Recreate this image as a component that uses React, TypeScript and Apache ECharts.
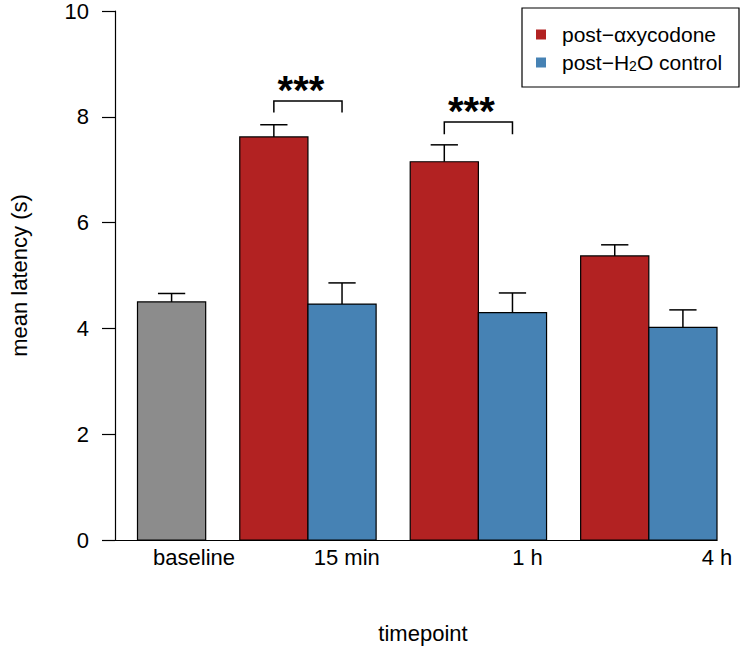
import React, { useEffect, useRef } from "react";
import * as echarts from "echarts";

// ---- data ----
const groupLabels = ["baseline", "15 min", "1 h", "4 h"];
const baselineMean = [4.5];
const baselineSem = [0.16];
const oxyName = "post\u2212\u03B1xycodone";
const h2oName = "post\u2212H2O control";
const oxyMean = [7.62, 7.15, 5.37]; // 15 min, 1 h, 4 h
const oxySem = [0.23, 0.32, 0.21];
const h2oMean = [4.46, 4.3, 4.02];
const h2oSem = [0.4, 0.37, 0.33];
// significance brackets: group index (0 = 15 min), bracket top, bracket foot
const sigGroup = [0, 1];
const sigTop = [8.3, 7.9];
const sigFoot = [8.08, 7.67];
const sigText = ["***", "***"];
const yTicks = [0, 2, 4, 6, 8, 10];

// ---- layout (bar units) ----
const BAR_W = 1;
const X_MAX = 8.83;
const baseLeft = 0.33;
const groupLeft = (g: number) => 1.83 + g * 2.5;
const labelPos = [1.16, 3.4, 6.05, 8.83];

const FONT = "'Liberation Sans', Arial, Helvetica, sans-serif";
const RED = "#b22222";
const BLUE = "#4682b4";
const GRAY = "#8c8c8c";

function barRender(params: any, api: any) {
  const left = api.value(0);
  const val = api.value(1);
  const sem = api.value(2);
  const color = api.visual("color");
  const p0 = api.coord([left, 0]);
  const p1 = api.coord([left + BAR_W, val]);
  const cx = left + BAR_W / 2;
  const top = api.coord([cx, val]);
  const eTop = api.coord([cx, val + sem]);
  const capL = api.coord([cx - 0.2, val + sem]);
  const capR = api.coord([cx + 0.2, val + sem]);
  return {
    type: "group",
    children: [
      {
        type: "rect",
        shape: { x: p0[0], y: p1[1], width: p1[0] - p0[0], height: p0[1] - p1[1] },
        style: { fill: color, stroke: "#000", lineWidth: 1.2 },
      },
      {
        type: "line",
        shape: { x1: top[0], y1: top[1], x2: eTop[0], y2: eTop[1] },
        style: { stroke: "#000", lineWidth: 1.5 },
      },
      {
        type: "line",
        shape: { x1: capL[0], y1: capL[1], x2: capR[0], y2: capR[1] },
        style: { stroke: "#000", lineWidth: 1.5 },
      },
    ],
  };
}

export default function App() {
  const ref = useRef<HTMLDivElement>(null);
  useEffect(() => {
    if (!ref.current) return;
    const chart = echarts.init(ref.current, null, { renderer: "svg" });

    const baseData = baselineMean.map((m, i) => [baseLeft, m, baselineSem[i]]);
    const oxyData = oxyMean.map((m, i) => [groupLeft(i), m, oxySem[i]]);
    const h2oData = h2oMean.map((m, i) => [groupLeft(i) + BAR_W, m, h2oSem[i]]);
    const sigData = sigGroup.map((g, i) => [
      groupLeft(g) + BAR_W / 2,
      groupLeft(g) + BAR_W * 1.5,
      sigTop[i],
      sigFoot[i],
      i,
    ]);
    const labelData = groupLabels.map((l, i) => [labelPos[i], 0, i]);

    chart.setOption({
      animation: false,
      textStyle: { fontFamily: FONT },
      grid: { left: 101, right: 24, top: 7, bottom: 106, containLabel: false },
      xAxis: {
        type: "value",
        min: 0,
        max: X_MAX,
        axisLine: { show: true, onZero: false, lineStyle: { color: "#000", width: 1.2 } },
        axisTick: { show: false },
        axisLabel: { show: false },
        splitLine: { show: false },
      },
      yAxis: {
        type: "value",
        min: 0,
        max: 10,
        interval: 2,
        name: "mean latency (s)",
        nameLocation: "middle",
        nameRotate: 90,
        nameGap: 85,
        nameTextStyle: { fontSize: 22, color: "#000", fontFamily: FONT },
        axisLine: { show: true, lineStyle: { color: "#000", width: 1.2 } },
        axisTick: { show: true, inside: false, length: 13, lineStyle: { color: "#000", width: 1.2 } },
        axisLabel: {
          fontSize: 22,
          color: "#000",
          margin: 26,
          fontFamily: FONT,
          formatter: (v: number) => (yTicks.includes(v) ? String(v) : ""),
        },
        splitLine: { show: false },
      },
      legend: {
        data: [oxyName, h2oName],
        orient: "vertical",
        left: 536,
        top: 24,
        padding: 0,
        itemGap: 7,
        itemWidth: 10,
        itemHeight: 10,
        icon: "rect",
        selectedMode: false,
        formatter: (name: string) =>
          name === h2oName ? "{m|post\u2212H}{sub|2}{m|O control}" : "{m|" + name + "}",
        textStyle: {
          fontSize: 21,
          color: "#000",
          fontFamily: FONT,
          padding: [0, 0, 0, 11],
          lineHeight: 20,
          rich: {
            m: { fontSize: 21, lineHeight: 20, fontFamily: FONT, color: "#000" },
            sub: { fontSize: 14, lineHeight: 6, verticalAlign: "bottom", fontFamily: FONT, color: "#000" },
          },
        },
      },
      graphic: [
        {
          type: "rect",
          shape: { x: 522, y: 8, width: 217, height: 79 },
          style: { fill: "none", stroke: "#000", lineWidth: 1.2 },
          z: 10,
        },
        {
          type: "text",
          x: 423,
          y: 633,
          style: {
            text: "timepoint",
            fontSize: 22,
            fontFamily: FONT,
            fill: "#000",
            textAlign: "center",
            textVerticalAlign: "middle",
          },
        },
      ],
      series: [
        {
          type: "custom",
          name: "baseline",
          renderItem: barRender,
          itemStyle: { color: GRAY },
          data: baseData,
          encode: { x: 0, y: 1 },
        },
        {
          type: "custom",
          name: oxyName,
          renderItem: barRender,
          itemStyle: { color: RED },
          data: oxyData,
          encode: { x: 0, y: 1 },
        },
        {
          type: "custom",
          name: h2oName,
          renderItem: barRender,
          itemStyle: { color: BLUE },
          data: h2oData,
          encode: { x: 0, y: 1 },
        },
        {
          type: "custom",
          name: "sig",
          renderItem: (params: any, api: any) => {
            const x1 = api.value(0);
            const x2 = api.value(1);
            const yt = api.value(2);
            const yf = api.value(3);
            const idx = api.value(4);
            const a = api.coord([x1, yf]);
            const b = api.coord([x1, yt]);
            const c = api.coord([x2, yt]);
            const d = api.coord([x2, yf]);
            return {
              type: "group",
              children: [
                {
                  type: "polyline",
                  shape: { points: [a, b, c, d] },
                  style: { stroke: "#000", lineWidth: 1.5, fill: "none" },
                },
                {
                  type: "text",
                  x: (b[0] + c[0]) / 2 - 7,
                  y: b[1] + 9,
                  style: {
                    text: sigText[idx],
                    fontSize: 40,
                    fontWeight: "bold",
                    fontFamily: FONT,
                    fill: "#000",
                    textAlign: "center",
                    textVerticalAlign: "bottom",
                  },
                },
              ],
            };
          },
          data: sigData,
          encode: { x: [0, 1], y: [2, 3] },
          silent: true,
        },
        {
          type: "custom",
          name: "xlabels",
          renderItem: (params: any, api: any) => {
            const p = api.coord([api.value(0), api.value(1)]);
            return {
              type: "text",
              x: p[0],
              y: p[1] + 6,
              style: {
                text: groupLabels[api.value(2)],
                fontSize: 22,
                fontFamily: FONT,
                fill: "#000",
                textAlign: "center",
                textVerticalAlign: "top",
              },
            };
          },
          data: labelData,
          encode: { x: 0, y: 1 },
          clip: false,
          silent: true,
        },
      ],
    });
    return () => chart.dispose();
  }, []);
  return <div ref={ref} style={{ width: 741, height: 646, position: "absolute", left: 0, top: 0 }} />;
}
